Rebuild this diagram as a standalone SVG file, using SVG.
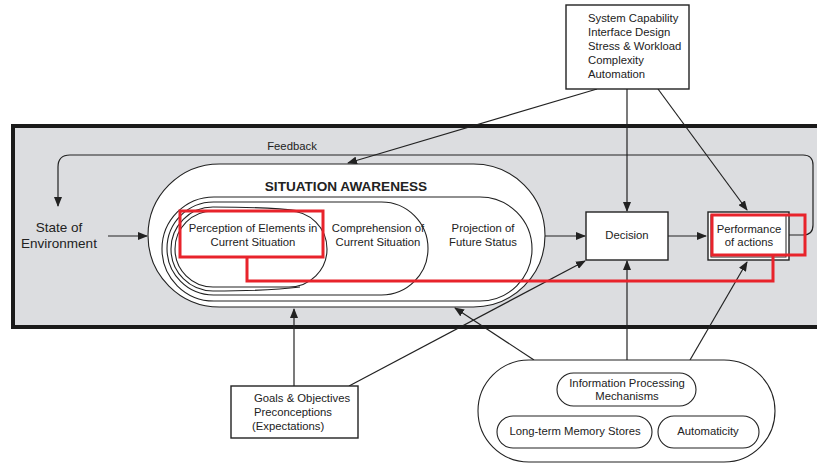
<svg xmlns="http://www.w3.org/2000/svg" width="817" height="464" viewBox="0 0 817 464">
<style>
text{font-family:"Liberation Sans",Arial,sans-serif;fill:#222;font-size:11.3px}
.c{text-anchor:middle}
.ln{fill:none;stroke:#222;stroke-width:1.2}
.bx{fill:#fff;stroke:#222;stroke-width:1.4}
.sh{fill:#fff;stroke:#222;stroke-width:1.1}
.red{fill:none;stroke:#e8232b;stroke-width:3}
</style>
<defs>
<marker id="ah" markerUnits="userSpaceOnUse" markerWidth="10" markerHeight="8" refX="9" refY="4" orient="auto">
<path d="M0,0 L10,4 L0,8 z" fill="#222"/>
</marker>
</defs>
<rect x="0" y="0" width="817" height="464" fill="#fff"/>
<rect id="band" x="13" y="126" width="820" height="201" fill="#dcdde0" stroke="#1a1a1a" stroke-width="4"/>

<g id="connectors" class="ln" marker-end="url(#ah)">
<path d="M789 235 H803 Q813 235 813 225 V165 Q813 155 803 155 H70 Q58 155 58 167 V206"/>
<line x1="108" y1="236" x2="147" y2="236"/>
<line x1="545" y1="236" x2="585" y2="236"/>
<line x1="668" y1="236" x2="706" y2="236"/>
<line x1="597" y1="89" x2="348" y2="163"/>
<line x1="627" y1="89" x2="627" y2="211"/>
<line x1="658" y1="89" x2="747" y2="210"/>
<line x1="294" y1="386" x2="294" y2="309"/>
<line x1="349" y1="386" x2="585" y2="261"/>
<line x1="534" y1="360" x2="455" y2="308"/>
<line x1="627" y1="360" x2="627" y2="261"/>
<line x1="690" y1="360" x2="747" y2="262"/>
</g>
<text class="c" x="292" y="150">Feedback</text>

<g id="state">
<text class="c" x="59" y="232" style="font-size:13.5px">State of</text>
<text class="c" x="59" y="248" style="font-size:13.5px">Environment</text>
</g>

<g id="situation-awareness">
<rect class="sh" x="148" y="164" width="397" height="143" rx="71.5"/>
<text class="c" x="346" y="191" style="font-weight:bold;font-size:13.6px">SITUATION AWARENESS</text>
<g id="projection">
<rect class="sh" x="162" y="197" width="370" height="104" rx="52"/>
<text class="c" x="483" y="232">Projection of</text>
<text class="c" x="483" y="246">Future Status</text>
</g>
<g id="comprehension">
<rect class="sh" x="167" y="202" width="261" height="93" rx="46.5"/>
<text class="c" x="378" y="232">Comprehension of</text>
<text class="c" x="378" y="246">Current Situation</text>
</g>
<g id="perception">
<path class="sh" d="M300 211 C270 207 240 207 213 207 A42 42 0 0 0 213 291 C240 291 270 291 300 287"/>
<rect class="sh" x="175" y="211" width="152" height="76" rx="38"/>
<text class="c" x="253" y="232">Perception of Elements in</text>
<text class="c" x="253" y="246">Current Situation</text>
</g>
</g>

<g id="decision">
<rect class="bx" x="586" y="212" width="82" height="48"/>
<text class="c" x="627" y="239">Decision</text>
</g>

<g id="performance">
<rect class="bx" x="708" y="212" width="81" height="48"/>
<rect fill="none" stroke="#222" stroke-width="1" x="711" y="215" width="75" height="42"/>
<text class="c" x="749" y="233">Performance</text>
<text class="c" x="749" y="246">of actions</text>
</g>

<g id="factors">
<rect class="bx" x="566" y="5" width="123" height="84"/>
<text x="588" y="22">System Capability</text>
<text x="588" y="36">Interface Design</text>
<text x="588" y="50">Stress &amp; Workload</text>
<text x="588" y="64">Complexity</text>
<text x="588" y="78">Automation</text>
</g>

<g id="goals">
<rect class="bx" x="231" y="386" width="127" height="52"/>
<text x="254" y="402">Goals &amp; Objectives</text>
<text x="254" y="416">Preconceptions</text>
<text x="252" y="430">(Expectations)</text>
</g>

<g id="abilities">
<rect class="sh" x="478" y="360" width="297" height="102" rx="51"/>
<g id="ipm">
<rect class="sh" x="557" y="373" width="139" height="33" rx="16.5"/>
<text class="c" x="627" y="387">Information Processing</text>
<text class="c" x="627" y="400">Mechanisms</text>
</g>
<g id="ltm">
<rect class="sh" x="497" y="416" width="155" height="32" rx="16"/>
<text class="c" x="575" y="435">Long-term Memory Stores</text>
</g>
<g id="auto">
<rect class="sh" x="658" y="416" width="101" height="32" rx="16"/>
<text class="c" x="708" y="435">Automaticity</text>
</g>
</g>

<g id="highlight">
<rect class="red" x="180" y="211" width="143" height="46"/>
<rect class="red" x="712" y="215" width="93" height="40"/>
<path class="red" d="M247 257 V281 H773 V255"/>
</g>
</svg>
